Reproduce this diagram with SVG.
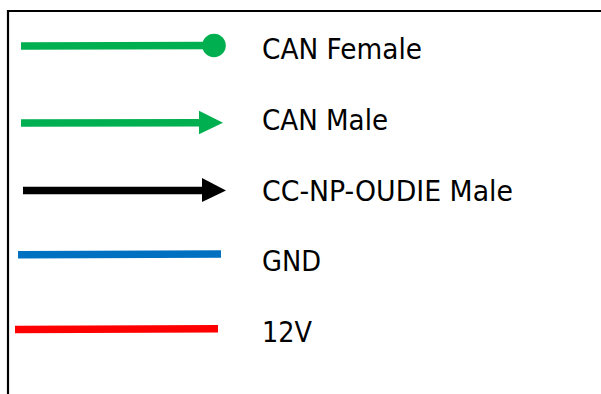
<svg xmlns="http://www.w3.org/2000/svg" width="601" height="394" viewBox="0 0 601 394">
<style>
.lbl{font-family:"DejaVu Sans","Verdana",sans-serif;font-size:29px;fill:#000}
.wire{stroke-width:7.5;fill:none}
</style>
<rect width="601" height="394" fill="#fff"/>
<path d="M8,394 V11 H601" fill="none" stroke="#000" stroke-width="2.2"/>
<g id="connectors">
<g id="can-female">
<line class="wire" x1="21" y1="46" x2="210" y2="45.5" stroke="#00B050"/>
<circle cx="214" cy="45.5" r="11.8" fill="#00B050"/>
</g>
<g id="can-male">
<line class="wire" x1="21" y1="123" x2="201" y2="122.7" stroke="#00B050"/>
<polygon points="199,110.7 223,122.7 199,134.3" fill="#00B050"/>
</g>
<g id="cc-male">
<line class="wire" x1="23" y1="190.6" x2="204" y2="190.4" stroke="#000"/>
<polygon points="202,178 226,190.4 202,202" fill="#000"/>
</g>
<g id="gnd">
<line class="wire" x1="18" y1="254.8" x2="221" y2="254" stroke="#0070C0"/>
</g>
<g id="v12">
<line class="wire" x1="15" y1="329.5" x2="218" y2="328.8" stroke="#FF0000"/>
</g>
</g>
<g id="labels">
<text class="lbl" x="262" y="58.5" textLength="160" lengthAdjust="spacingAndGlyphs">CAN Female</text>
<text class="lbl" x="262" y="130" textLength="126" lengthAdjust="spacingAndGlyphs">CAN Male</text>
<text class="lbl" x="262" y="200.5" textLength="251" lengthAdjust="spacingAndGlyphs">CC-NP-OUDIE Male</text>
<text class="lbl" x="262" y="271" textLength="59" lengthAdjust="spacingAndGlyphs">GND</text>
<text class="lbl" x="262" y="342" textLength="50" lengthAdjust="spacingAndGlyphs">12V</text>
</g>
</svg>
